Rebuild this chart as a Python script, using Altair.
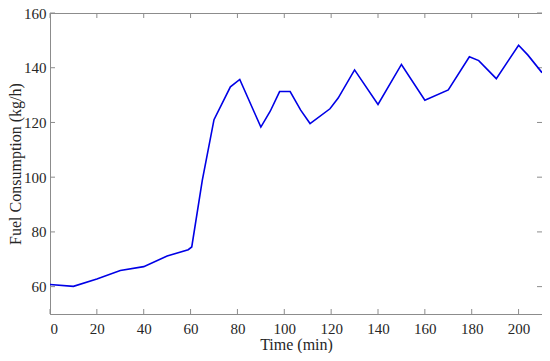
import altair as alt
import pandas as pd

time_min = [0, 10, 20, 30, 40, 50, 59, 60.5, 65, 70, 77, 81, 90, 94, 98, 102.5, 107, 111, 119.5, 123, 130, 140, 150, 160, 170, 179, 183, 190.5, 200, 204, 210]
fuel_kgh = [60.8, 60.1, 62.8, 65.9, 67.3, 71.2, 73.5, 74.5, 98.8, 121.0, 133.0, 135.7, 118.3, 124.1, 131.3, 131.3, 124.5, 119.6, 125.0, 128.9, 139.2, 126.6, 141.2, 128.1, 131.9, 144.0, 142.6, 136.0, 148.2, 144.6, 138.2]

x_ticks = [0, 20, 40, 60, 80, 100, 120, 140, 160, 180, 200]
y_ticks = [60, 80, 100, 120, 140, 160]

W, H = 492, 301
FONT = "Liberation Serif"
AXIS_COLOR = "#8c8c8c"
TEXT_COLOR = "#262626"
TICK_LEN = 5

df = pd.DataFrame({"t": time_min, "f": fuel_kgh})
xt = pd.DataFrame({"v": x_ticks})
yt = pd.DataFrame({"v": y_ticks})

xscale = alt.Scale(domain=[0, 210], nice=False, zero=False)
yscale = alt.Scale(domain=[50, 160], nice=False, zero=False)

line = alt.Chart(df).mark_line(color="#0000e6", strokeWidth=1.6).encode(
    x=alt.X("t:Q", scale=xscale, title="Time (min)",
            axis=alt.Axis(values=x_ticks, grid=False, ticks=False, tickSize=0,
                          labelPadding=7, titlePadding=0, domainColor=AXIS_COLOR)),
    y=alt.Y("f:Q", scale=yscale, title="Fuel Consumption (kg/h)",
            axis=alt.Axis(values=y_ticks, grid=False, ticks=False, tickSize=0,
                          labelPadding=4, titlePadding=0, domainColor=AXIS_COLOR)),
)

tick_style = dict(color=AXIS_COLOR, strokeWidth=1)

bottom_ticks = alt.Chart(xt).mark_rule(**tick_style).encode(
    x=alt.X("v:Q", scale=xscale), y=alt.value(H), y2=alt.value(H - TICK_LEN))
top_ticks = alt.Chart(xt).mark_rule(**tick_style).encode(
    x=alt.X("v:Q", scale=xscale), y=alt.value(0), y2=alt.value(TICK_LEN))
left_ticks = alt.Chart(yt).mark_rule(**tick_style).encode(
    y=alt.Y("v:Q", scale=yscale), x=alt.value(0), x2=alt.value(TICK_LEN))
right_ticks = alt.Chart(yt).mark_rule(**tick_style).encode(
    y=alt.Y("v:Q", scale=yscale), x=alt.value(W), x2=alt.value(W - TICK_LEN))

chart = alt.layer(bottom_ticks, top_ticks, left_ticks, right_ticks, line).properties(
    width=W, height=H,
    autosize=alt.AutoSizeParams(type="none"),
    padding={"left": 42, "top": 5, "right": 0, "bottom": 39},
    background="white",
).configure_view(stroke=AXIS_COLOR, strokeWidth=1).configure_axis(
    labelFont=FONT, titleFont=FONT, labelFontSize=15, titleFontSize=16,
    labelColor=TEXT_COLOR, titleColor=TEXT_COLOR, titleFontWeight="normal",
)

chart.save("out.html", embed_options={"renderer": "svg", "actions": False})
